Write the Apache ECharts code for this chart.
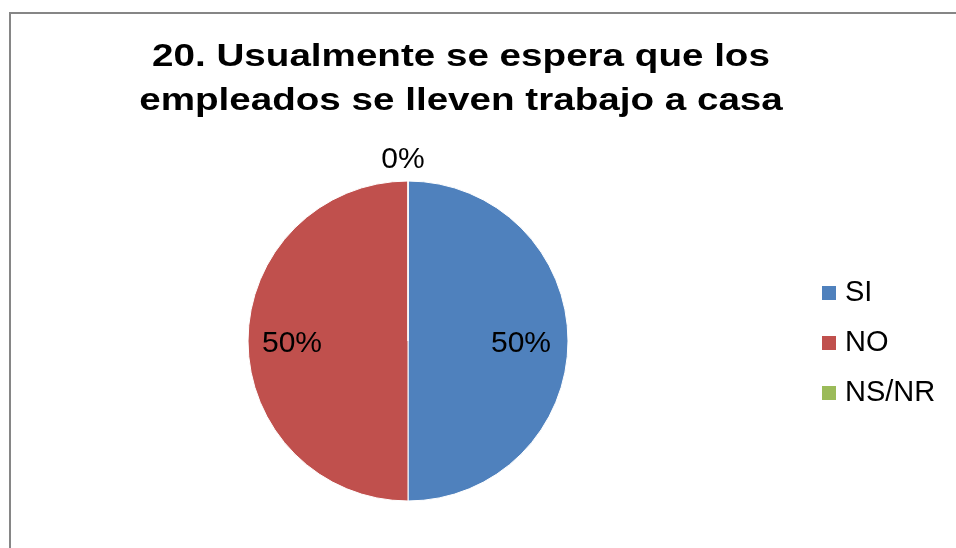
<!DOCTYPE html>
<html>
<head>
<meta charset="utf-8">
<style>
  html, body { margin: 0; padding: 0; background: #ffffff; }
  #chart { width: 956px; height: 548px; }
</style>
<script src="https://cdn.jsdelivr.net/npm/echarts@6/dist/echarts.min.js"></script>
</head>
<body>
<div id="chart"></div>
<script>
// Survey answers for question 20
const titleLines = ['20. Usualmente se espera que los', 'empleados se lleven trabajo a casa'];
const categories = ['SI', 'NO', 'NS/NR'];
const percents = [50, 50, 0];
const colors = ['#4F81BD', '#C0504D', '#9BBB59'];

const FONT = '"Liberation Sans", Arial, sans-serif';

const chart = echarts.init(document.getElementById('chart'), null, { renderer: 'canvas' });

const pieData = categories.map((name, i) => {
  const item = { name: name, value: percents[i], itemStyle: { color: colors[i] } };
  if (percents[i] === 0) {
    // zero-width slice: put its label just above the pie
    item.label = { position: 'outside' };
    item.labelLine = { show: false, length: 21, length2: 0 };
  }
  return item;
});

chart.setOption({
  backgroundColor: '#ffffff',
  animation: false,
  legend: {
    orient: 'vertical',
    left: 820,
    top: 278,
    padding: 0,
    itemWidth: 16,
    itemHeight: 16,
    itemGap: 20,
    icon: 'rect',
    data: categories,
    textStyle: {
      fontFamily: FONT,
      fontSize: 29,
      lineHeight: 30,
      padding: [0, 0, 0, 3],
      color: '#000000'
    }
  },
  graphic: [{
    // outer frame of the chart area
    type: 'rect',
    shape: { x: 10, y: 13, width: 1000, height: 600 },
    style: { fill: 'none', stroke: '#868686', lineWidth: 2 },
    silent: true,
    z: -1
  }, {
    // two-line heading, slightly widened
    type: 'text',
    x: 461,
    y: 35,
    scaleX: 1.245,
    silent: true,
    style: {
      text: titleLines.join('\n'),
      font: 'bold 31px ' + FONT,
      lineHeight: 44,
      fill: '#000000',
      align: 'center',
      verticalAlign: 'top'
    }
  }],
  series: [{
    type: 'pie',
    center: [408, 341],
    radius: [0, 160],
    startAngle: 90,
    clockwise: true,
    avoidLabelOverlap: false,
    minShowLabelAngle: 0,
    itemStyle: { borderColor: '#ffffff', borderWidth: 1 },
    label: {
      show: true,
      position: 'inside',
      formatter: '{c}%',
      fontFamily: FONT,
      fontSize: 30,
      color: '#000000'
    },
    labelLine: { show: false },
    labelLayout: function (p) {
      if (percents[p.dataIndex] === 0) {
        return { align: 'center' };
      }
      // push the value labels outwards, towards the rim
      return { dx: p.dataIndex === 0 ? 30 : -33, dy: 3 };
    },
    emphasis: { disabled: true },
    data: pieData
  }]
});
</script>
</body>
</html>
